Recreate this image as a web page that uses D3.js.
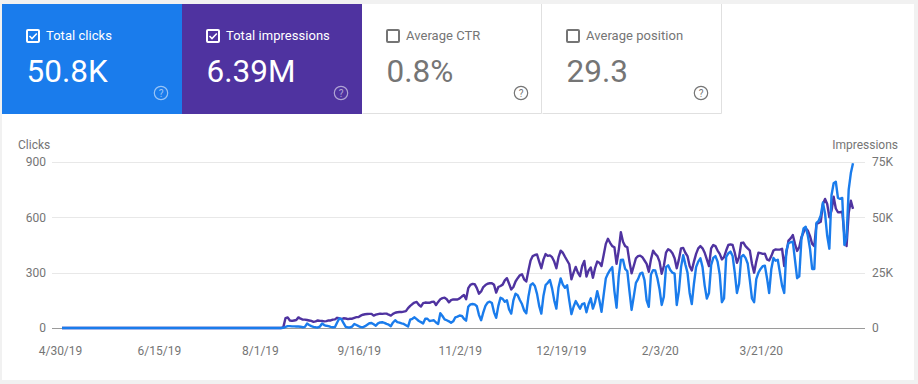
<!DOCTYPE html>
<html>
<head>
<meta charset="utf-8">
<script src="https://cdn.jsdelivr.net/npm/d3@7"></script>
<style>
  html, body { margin: 0; padding: 0; background: #f1f1f1; overflow: hidden; }
  svg { display: block; font-family: Roboto, sans-serif; }
</style>
</head>
<body>
<div id="chart"></div>
<script>
const cardLabels = ["Total clicks", "Total impressions", "Average CTR", "Average position"];
const cardValues = ["50.8K", "6.39M", "0.8%", "29.3"];
const cardColors = ["#1a7cec", "#4f33a0", null, null];

const clickTicks = [0, 300, 600, 900];
const impressionTicks = [0, 25, 50, 75];
const dateLabels = ["4/30/19", "6/15/19", "8/1/19", "9/16/19", "11/2/19", "12/19/19", "2/3/20", "3/21/20"];
const firstDay = "4/30/19";

// one value per day from 4/30/19, nothing recorded until august
const clicks = [
  0,0,0,0,0,0,0,0,0,0,0,0,0,0,0,0,0,0,0,0,
  0,0,0,0,0,0,0,0,0,0,0,0,0,0,0,0,0,0,0,0,
  0,0,0,0,0,0,0,0,0,0,0,0,0,0,0,0,0,0,0,0,
  0,0,0,0,0,0,0,0,0,0,0,0,0,0,0,0,0,0,0,0,
  0,0,0,0,0,0,0,0,0,0,0,0,0,0,0,0,0,0,0,0,
  0,0,0,
  1,6,10,10,9,9,8,8,7,4,6,
  24,16,10,6,4,3,8,24,16,12,
  10,6,4,5,30,52,48,26,6,3,
  3,8,22,16,10,5,4,10,18,26,
  27,20,12,25,30,31,28,22,18,10,
  30,42,32,29,25,22,15,8,45,50,
  58,48,38,32,25,50,50,38,40,42,
  30,22,80,65,47,42,36,28,36,58,
  62,68,66,50,40,115,128,130,128,118,
  70,42,85,120,138,143,135,85,55,120,
  164,158,142,150,100,78,150,186,178,152,
  130,95,80,170,233,242,228,185,120,78,
  175,233,245,260,215,150,105,220,269,235,
  218,232,150,75,115,146,125,105,130,134,
  85,130,161,105,140,200,150,88,180,269,
  295,315,330,200,110,280,369,370,320,309,
  200,98,170,245,265,295,300,260,150,115,
  290,314,312,270,210,125,170,330,340,315,
  300,295,125,200,330,395,345,300,190,130,
  240,330,360,378,330,230,160,190,340,380,
  390,360,290,140,160,385,405,414,390,300,
  190,240,385,396,380,350,260,160,140,265,
  300,320,335,338,270,190,320,380,365,370,
  300,230,190,420,460,465,468,370,270,280,
  480,540,549,500,430,320,320,570,580,610,
  680,620,500,430,720,785,793,705,700,705,
  450,490,750,840,893
];

// thousands
const impressions = [
  0,0,0,0,0,0,0,0,0,0,0,0,0,0,0,0,0,0,0,0,
  0,0,0,0,0,0,0,0,0,0,0,0,0,0,0,0,0,0,0,0,
  0,0,0,0,0,0,0,0,0,0,0,0,0,0,0,0,0,0,0,0,
  0,0,0,0,0,0,0,0,0,0,0,0,0,0,0,0,0,0,0,0,
  0,0,0,0,0,0,0,0,0,0,0,0,0,0,0,0,0,0,0,0,
  0,0,0,
  0.5,4.5,4.8,3.4,3.2,3.4,3.6,4.8,4.2,3.8,3.8,
  3.6,3.4,3.2,2.8,3.0,3.4,3.2,3.2,3.0,3.1,
  3.4,3.4,3.8,3.9,4.6,4.4,4.0,4.4,4.3,4.0,
  4.2,4.2,4.6,4.9,5.0,5.6,6.0,6.2,6.3,6.4,
  6.4,5.6,6.0,6.3,6.5,6.4,6.5,6.5,6.0,5.6,
  6.4,6.9,7.1,7.2,7.2,7.4,7.6,9,10,10.8,
  11.5,11.8,10.5,9.7,11.2,11.5,11.4,11.4,11.8,11.9,
  10.4,11.8,13,13.5,13.7,13,11.6,12.6,12.9,12.9,
  12.9,13.4,14.2,14.9,13,18,19.5,19.9,19.8,18,
  15.5,16.5,18.5,19.4,20,20.2,20.2,19.5,16,18.5,
  19,19.6,21.5,22.5,20,17.4,18.5,21,22.5,23.8,
  24.3,22,21,26,30.5,32.5,33,33.2,30,27,
  31,33.4,32.6,32.8,32,30,27,32,34.9,34,
  32.2,30.5,28.8,22,25,27.6,25,23.4,28,30.3,
  23.2,26,27.3,22.7,27,30,29.5,28,33,38,
  40.3,38.5,37,36.5,29,35,43.3,39,37,36.5,
  30,24.7,28,31.5,32.5,32.7,32,30.5,29,25.4,
  31,34.9,33.5,32.5,30,24.5,28,34,35.6,35,
  33.8,31.5,27,31,36,36.2,34,32.5,28,26,
  30,33.5,36,37,36,34,31,28,36,37.5,
  37,35,33.5,31,32,35,37.5,37.8,37.5,34,
  29.5,32,38.4,38.6,37,36,35,29,25,30,
  34,33.8,33.5,33.6,31,30.5,32.5,35,35.5,35.4,
  35.4,35.8,28,34,39.5,40.5,42,38,34.8,36.5,
  41,43.3,45,44,41.5,38,37,47,47.5,48,
  56,58.3,56,50,53,59.3,54,52.3,52.3,52.6,
  42,37,52,57.5,53.8
];

const width = 918;
const height = 384;
const grey = "#757575";
const clickColor = "#1a7cec";
const impressionColor = "#4f33a0";

const parseDate = d3.utcParse("%m/%d/%y");
const start = parseDate(firstDay);
const dayOf = (i) => d3.utcDay.offset(start, i);

const svg = d3.select("#chart").append("svg").attr("width", width).attr("height", height);

// page card
svg.append("rect").attr("x", 2).attr("y", 4).attr("width", 912).attr("height", 376).attr("fill", "#fff");

drawCards();
drawChart();

function drawCards() {
  const cardWidth = 180;
  const cardHeight = 110;
  const cards = svg.selectAll(".card")
    .data(cardLabels)
    .join("g")
    .attr("class", "card")
    .attr("transform", (d, i) => `translate(${2 + i * cardWidth}, 4)`);

  cards.append("rect")
    .attr("width", cardWidth)
    .attr("height", cardHeight)
    .attr("fill", (d, i) => cardColors[i] || "#fff");

  // thin outline on the unselected cards only
  cards.filter((d, i) => !cardColors[i])
    .append("path")
    .attr("d", `M0.5,${cardHeight - 0.5}H${cardWidth - 0.5}V0`)
    .attr("fill", "none")
    .attr("stroke", "#e0e0e0");

  const fg = (i) => (cardColors[i] ? "#fff" : grey);

  cards.append("rect")
    .attr("x", 25)
    .attr("y", 26)
    .attr("width", 12)
    .attr("height", 12)
    .attr("rx", 1)
    .attr("fill", "none")
    .attr("stroke", (d, i) => fg(i))
    .attr("stroke-width", 2);

  cards.filter((d, i) => cardColors[i])
    .append("path")
    .attr("d", "M27.5,32 L30,34.6 L34.8,29.4")
    .attr("fill", "none")
    .attr("stroke", "#fff")
    .attr("stroke-width", 1.5);

  cards.append("text")
    .attr("x", 44)
    .attr("y", 36)
    .attr("font-size", 13)
    .attr("letter-spacing", 0.04)
    .attr("fill", (d, i) => fg(i))
    .text((d) => d);

  cards.append("text")
    .attr("x", 24.5)
    .attr("y", 78)
    .attr("font-size", 31.5)
    .attr("fill", (d, i) => fg(i))
    .text((d, i) => cardValues[i]);

  const help = cards.append("g")
    .attr("transform", "translate(159, 89)")
    .attr("opacity", (d, i) => (cardColors[i] ? 0.55 : 1));

  help.append("circle")
    .attr("r", 6.7)
    .attr("fill", "none")
    .attr("stroke", (d, i) => fg(i))
    .attr("stroke-width", 1.2);

  help.append("text")
    .attr("y", 3.6)
    .attr("text-anchor", "middle")
    .attr("font-size", 10)
    .attr("fill", (d, i) => fg(i))
    .text("?");
}

function drawChart() {
  const x = d3.scaleUtc()
    .domain([start, dayOf(clicks.length - 1)])
    .range([62, 853]);
  const yClicks = d3.scaleLinear().domain([0, 900]).range([328, 162]);
  const yImpressions = d3.scaleLinear().domain([0, 75]).range([328, 162]);

  // gridlines, nudged half a pixel so they stay crisp
  svg.append("g")
    .selectAll("line")
    .data(clickTicks)
    .join("line")
    .attr("x1", 52)
    .attr("x2", 865)
    .attr("y1", (d) => Math.round(yClicks(d)) + 0.5)
    .attr("y2", (d) => Math.round(yClicks(d)) + 0.5)
    .attr("stroke", (d) => (d === 0 ? "#9a9a9a" : "#e8e8e8"));

  const styleAxis = (g) => {
    g.select(".domain").remove();
    g.selectAll("text").attr("fill", grey).attr("font-size", 12).attr("font-family", "Roboto, sans-serif");
  };

  svg.append("g")
    .attr("transform", "translate(46, 0)")
    .call(d3.axisLeft(yClicks).tickValues(clickTicks).tickSize(0).tickPadding(0))
    .call(styleAxis);

  svg.append("g")
    .attr("transform", "translate(872, 0)")
    .call(d3.axisRight(yImpressions).tickValues(impressionTicks).tickSize(0).tickPadding(0)
      .tickFormat((d) => (d === 0 ? "0" : `${d}K`)))
    .call(styleAxis);

  svg.append("g")
    .attr("transform", "translate(-2, 346)")
    .call(d3.axisBottom(x).tickValues(dateLabels.map(parseDate)).tickSize(0).tickPadding(0)
      .tickFormat((d, i) => dateLabels[i]))
    .call(styleAxis);

  svg.append("text")
    .attr("x", 18).attr("y", 149)
    .attr("font-size", 12).attr("fill", grey)
    .text("Clicks");

  svg.append("text")
    .attr("x", 898).attr("y", 149)
    .attr("text-anchor", "end")
    .attr("font-size", 12).attr("fill", grey)
    .text("Impressions");

  const lineImpressions = d3.line()
    .x((d, i) => x(dayOf(i)))
    .y((d) => yImpressions(d));
  const lineClicks = d3.line()
    .x((d, i) => x(dayOf(i)))
    .y((d) => yClicks(d));

  svg.append("path")
    .datum(impressions)
    .attr("d", lineImpressions)
    .attr("fill", "none")
    .attr("stroke", impressionColor)
    .attr("stroke-width", 2.4)
    .attr("stroke-linejoin", "round");

  svg.append("path")
    .datum(clicks)
    .attr("d", lineClicks)
    .attr("fill", "none")
    .attr("stroke", clickColor)
    .attr("stroke-width", 2.4)
    .attr("stroke-linejoin", "round");
}
</script>
</body>
</html>
